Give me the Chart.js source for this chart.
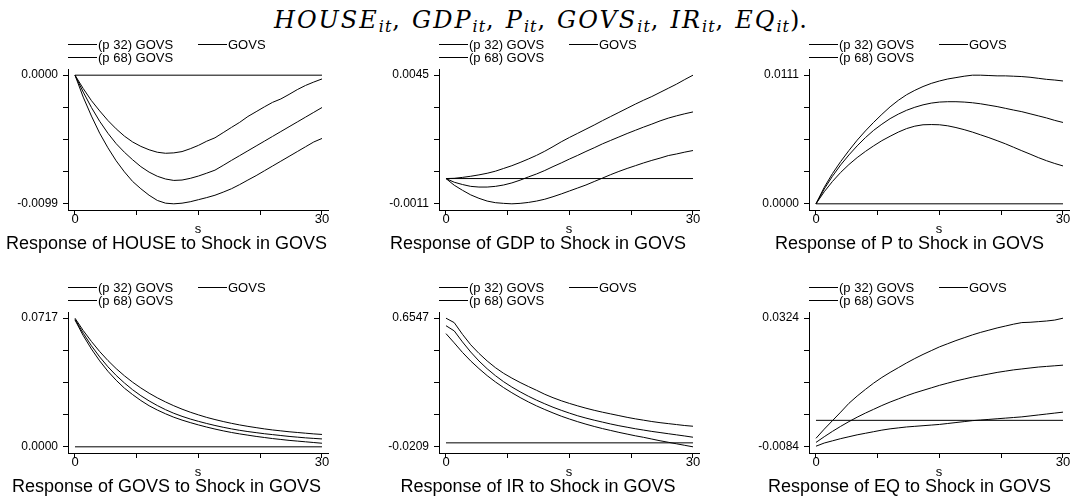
<!DOCTYPE html>
<html>
<head>
<meta charset="utf-8">
<script src="https://cdn.jsdelivr.net/npm/chart.js@4.4.1/dist/chart.umd.min.js"></script>
<style>
  html, body { margin: 0; padding: 0; background: #fff; }
  body { width: 1071px; height: 499px; position: relative; overflow: hidden; }
  canvas { position: absolute; }
  #head { position: absolute; left: 274px; top: 7px; font-family: 'DejaVu Serif', 'Liberation Serif', serif; font-size: 24px; line-height: 26px; white-space: nowrap; color: #000; }
  #head i { font-style: italic; letter-spacing: 2px; }
  #head sub { font-size: 16px; font-style: italic; letter-spacing: 1px; vertical-align: -4px; line-height: 0; }
  #head .c { margin-right: 12px; }
</style>
</head>
<body>
<div id="head"><i>HOUSE</i><sub>it</sub><span class="c">,</span><i>GDP</i><sub>it</sub><span class="c">,</span><i>P</i><sub>it</sub><span class="c">,</span><i>GOVS</i><sub>it</sub><span class="c">,</span><i>IR</i><sub>it</sub><span class="c">,</span><i>EQ</i><sub>it</sub>).</div>
<script>
Chart.defaults.font.family = "'Liberation Sans', Arial, Helvetica, sans-serif";
Chart.defaults.color = '#000';

// horizon steps and labels
const steps = [0,1,2,3,4,5,6,7,8,9,10,11,12,13,14,15,16,17,18,19,20,21,22,23,24,25,26,27,28,29,30];
const xTicks = [0, 7.5, 15, 22.5, 30];
const xLabels = [0, 30];
const shockName = 'GOVS';
const legendLabels = ['(p 32) GOVS', 'GOVS', '(p 68) GOVS'];
const zeroSteps = [0, 30];
const zeroLine = [0, 0];

// HOUSE
const houseP32 = [0, -0.00169, -0.00315, -0.00447, -0.00559, -0.00659, -0.00744, -0.00818, -0.00874, -0.00924, -0.00964, -0.00985, -0.00990, -0.00985, -0.00974, -0.00958, -0.00942, -0.00924, -0.00900, -0.00874, -0.00842, -0.00807, -0.00773, -0.00736, -0.00699, -0.00662, -0.00625, -0.00588, -0.00551, -0.00514, -0.00487];
const houseIrf = [0, -0.00130, -0.00249, -0.00355, -0.00447, -0.00527, -0.00593, -0.00651, -0.00704, -0.00746, -0.00778, -0.00799, -0.00810, -0.00807, -0.00794, -0.00776, -0.00754, -0.00731, -0.00694, -0.00656, -0.00619, -0.00582, -0.00545, -0.00508, -0.00471, -0.00434, -0.00397, -0.00360, -0.00323, -0.00286, -0.00249];
const houseP68 = [0, -0.00103, -0.00196, -0.00275, -0.00349, -0.00413, -0.00469, -0.00514, -0.00548, -0.00574, -0.00593, -0.00601, -0.00598, -0.00588, -0.00566, -0.00540, -0.00508, -0.00482, -0.00442, -0.00402, -0.00363, -0.00318, -0.00281, -0.00244, -0.00209, -0.00183, -0.00148, -0.00111, -0.00079, -0.00053, -0.00029];
const houseTicks = [-0.0099, 0.0000];

// GDP
const gdpP32 = [0, -0.00029, -0.00051, -0.00071, -0.00086, -0.00098, -0.00105, -0.00108, -0.00110, -0.00108, -0.00104, -0.00098, -0.00090, -0.00079, -0.00067, -0.00054, -0.00041, -0.00028, -0.00013, 0.00002, 0.00017, 0.00031, 0.00044, 0.00056, 0.00068, 0.00079, 0.00089, 0.00100, 0.00107, 0.00115, 0.00122];
const gdpIrf = [0, -0.00016, -0.00026, -0.00034, -0.00037, -0.00037, -0.00034, -0.00028, -0.00019, -0.00007, 0.00007, 0.00020, 0.00035, 0.00052, 0.00068, 0.00085, 0.00101, 0.00118, 0.00134, 0.00151, 0.00166, 0.00181, 0.00196, 0.00210, 0.00224, 0.00237, 0.00251, 0.00263, 0.00273, 0.00282, 0.00290];
const gdpP68 = [0, 0.00001, 0.00005, 0.00010, 0.00016, 0.00023, 0.00032, 0.00044, 0.00056, 0.00070, 0.00085, 0.00101, 0.00119, 0.00139, 0.00160, 0.00179, 0.00197, 0.00215, 0.00233, 0.00252, 0.00270, 0.00288, 0.00306, 0.00324, 0.00341, 0.00357, 0.00375, 0.00393, 0.00411, 0.00431, 0.00450];
const gdpTicks = [-0.0011, 0.0045];

// P
const pP32 = [0, 0.00104, 0.00193, 0.00271, 0.00339, 0.00399, 0.00452, 0.00500, 0.00545, 0.00583, 0.00619, 0.00649, 0.00670, 0.00682, 0.00684, 0.00682, 0.00673, 0.00658, 0.00640, 0.00619, 0.00595, 0.00571, 0.00545, 0.00518, 0.00488, 0.00458, 0.00429, 0.00399, 0.00372, 0.00348, 0.00327];
const pIrf = [0, 0.00128, 0.00238, 0.00336, 0.00422, 0.00500, 0.00571, 0.00634, 0.00687, 0.00735, 0.00774, 0.00807, 0.00833, 0.00854, 0.00869, 0.00878, 0.00881, 0.00881, 0.00878, 0.00872, 0.00863, 0.00851, 0.00839, 0.00824, 0.00809, 0.00795, 0.00777, 0.00759, 0.00741, 0.00720, 0.00702];
const pP68 = [0, 0.00142, 0.00261, 0.00365, 0.00460, 0.00549, 0.00629, 0.00703, 0.00772, 0.00837, 0.00893, 0.00941, 0.00979, 0.01012, 0.01039, 0.01060, 0.01077, 0.01089, 0.01101, 0.01110, 0.01110, 0.01107, 0.01104, 0.01104, 0.01101, 0.01098, 0.01092, 0.01083, 0.01074, 0.01068, 0.01060];
const pTicks = [0.0000, 0.0111];

// GOVS
const govsP32 = [0.0707, 0.0620, 0.0545, 0.0479, 0.0421, 0.0371, 0.0327, 0.0291, 0.0258, 0.0229, 0.0205, 0.0184, 0.0165, 0.0149, 0.0135, 0.0122, 0.0110, 0.0099, 0.0089, 0.0080, 0.0072, 0.0065, 0.0058, 0.0052, 0.0046, 0.0041, 0.0036, 0.0032, 0.0028, 0.0024, 0.0020];
const govsIrf = [0.0711, 0.0633, 0.0563, 0.0501, 0.0446, 0.0398, 0.0356, 0.0318, 0.0285, 0.0256, 0.0230, 0.0207, 0.0187, 0.0170, 0.0155, 0.0142, 0.0130, 0.0119, 0.0109, 0.0100, 0.0092, 0.0085, 0.0079, 0.0073, 0.0068, 0.0063, 0.0058, 0.0054, 0.0050, 0.0047, 0.0044];
const govsP68 = [0.0717, 0.0648, 0.0587, 0.0531, 0.0481, 0.0436, 0.0396, 0.0360, 0.0328, 0.0299, 0.0273, 0.0250, 0.0229, 0.0210, 0.0193, 0.0178, 0.0164, 0.0152, 0.0141, 0.0131, 0.0122, 0.0114, 0.0107, 0.0100, 0.0094, 0.0089, 0.0084, 0.0080, 0.0076, 0.0072, 0.0069];
const govsTicks = [0.0000, 0.0717];

// IR
const irP32 = [0.5736, 0.5250, 0.4750, 0.4300, 0.3900, 0.3530, 0.3200, 0.2900, 0.2630, 0.2380, 0.2150, 0.1940, 0.1750, 0.1570, 0.1400, 0.1250, 0.1110, 0.0980, 0.0860, 0.0750, 0.0650, 0.0550, 0.0460, 0.0370, 0.0290, 0.0200, 0.0110, 0.0030, -0.0050, -0.0130, -0.0209];
const irIrf = [0.6151, 0.5880, 0.5300, 0.4770, 0.4300, 0.3890, 0.3530, 0.3210, 0.2930, 0.2680, 0.2450, 0.2240, 0.2050, 0.1870, 0.1710, 0.1560, 0.1420, 0.1300, 0.1190, 0.1090, 0.0990, 0.0900, 0.0820, 0.0740, 0.0670, 0.0600, 0.0540, 0.0480, 0.0420, 0.0360, 0.0295];
const irP68 = [0.6547, 0.6313, 0.5700, 0.5150, 0.4700, 0.4300, 0.3950, 0.3650, 0.3400, 0.3170, 0.2960, 0.2760, 0.2550, 0.2370, 0.2210, 0.2070, 0.1940, 0.1820, 0.1710, 0.1610, 0.1520, 0.1430, 0.1340, 0.1260, 0.1190, 0.1120, 0.1060, 0.1010, 0.0960, 0.0910, 0.0872];
const irTicks = [-0.0209, 0.6547];

// EQ
const eqP32 = [-0.0082, -0.0072, -0.0065, -0.0058, -0.0052, -0.0046, -0.0041, -0.0036, -0.0031, -0.0027, -0.0024, -0.0021, -0.0019, -0.0017, -0.0015, -0.0013, -0.0010, -0.0007, -0.0004, -0.0001, 0.0001, 0.0003, 0.0005, 0.0007, 0.0009, 0.0011, 0.0014, 0.0017, 0.0020, 0.0023, 0.0026];
const eqIrf = [-0.0070, -0.0052, -0.0035, -0.0019, -0.0004, 0.0010, 0.0023, 0.0035, 0.0047, 0.0058, 0.0068, 0.0078, 0.0087, 0.0095, 0.0103, 0.0111, 0.0118, 0.0125, 0.0131, 0.0137, 0.0142, 0.0147, 0.0152, 0.0156, 0.0160, 0.0163, 0.0166, 0.0169, 0.0171, 0.0173, 0.0175];
const eqP68 = [-0.0057, -0.0028, -0.0001, 0.0026, 0.0054, 0.0077, 0.0098, 0.0118, 0.0136, 0.0152, 0.0167, 0.0182, 0.0196, 0.0209, 0.0221, 0.0233, 0.0243, 0.0253, 0.0262, 0.0271, 0.0279, 0.0286, 0.0293, 0.0299, 0.0305, 0.0310, 0.0311, 0.0313, 0.0315, 0.0318, 0.0324];
const eqTicks = [-0.0084, 0.0324];

const panels = [
  { name: 'HOUSE', lo: houseP32, mid: houseIrf, hi: houseP68, ticks: houseTicks },
  { name: 'GDP', lo: gdpP32, mid: gdpIrf, hi: gdpP68, ticks: gdpTicks },
  { name: 'P', lo: pP32, mid: pIrf, hi: pP68, ticks: pTicks },
  { name: 'GOVS', lo: govsP32, mid: govsIrf, hi: govsP68, ticks: govsTicks },
  { name: 'IR', lo: irP32, mid: irIrf, hi: irP68, ticks: irTicks },
  { name: 'EQ', lo: eqP32, mid: eqIrf, hi: eqP68, ticks: eqTicks }
];

// layout of the 3x2 grid
const colLeft = [5, 377, 750];
const colRight = [328, 699, 1069];
const yAxisWidth = [63, 62, 59];
const rowTop = [34, 277];
const canvasHeight = 221;
const padRight = 4;

// two-column legend like stata's
const bandLegend = {
  id: 'bandLegend',
  afterDraw(chart) {
    const { ctx, chartArea } = chart;
    const items = chart.data.datasets.filter(d => d.label);
    const slots = [[0, 0], [130, 0], [0, 13]];
    ctx.save();
    ctx.font = "13px 'Liberation Sans', Arial, sans-serif";
    ctx.textBaseline = 'middle';
    ctx.fillStyle = '#000';
    ctx.strokeStyle = '#000';
    ctx.lineWidth = 1;
    items.forEach((d, i) => {
      const x = chartArea.left + slots[i][0];
      const y = Math.round(chartArea.top) - 25 + slots[i][1];
      ctx.beginPath();
      ctx.moveTo(x, y + 0.5);
      ctx.lineTo(x + 29, y + 0.5);
      ctx.stroke();
      ctx.fillText(d.label, x + 30, y + 1);
    });
    ctx.restore();
  }
};

function series(xs, ys, label) {
  return {
    label: label,
    data: ys.map((v, i) => ({ x: xs[i], y: v })),
    borderColor: '#000', borderWidth: 1, pointRadius: 0, tension: 0, fill: false
  };
}

function makePanel(p, idx) {
  const col = idx % 3, row = Math.floor(idx / 3);
  const cl = colLeft[col];
  const cv = document.createElement('canvas');
  cv.width = colRight[col] - cl + padRight;
  cv.height = canvasHeight;
  cv.style.left = cl + 'px';
  cv.style.top = rowTop[row] + 'px';
  document.body.appendChild(cv);

  const yLo = p.ticks[0], yHi = p.ticks[1];
  const yPad = (yHi - yLo) * 0.048;

  new Chart(cv, {
    type: 'line',
    data: {
      datasets: [
        series(steps, p.lo, legendLabels[0]),
        series(steps, p.mid, legendLabels[1]),
        series(steps, p.hi, legendLabels[2]),
        series(zeroSteps, zeroLine, undefined)
      ]
    },
    options: {
      responsive: false, animation: false, events: [],
      layout: { padding: { top: 35, right: padRight, left: 0, bottom: 0 } },
      plugins: {
        legend: { display: false },
        tooltip: { enabled: false },
        title: {
          display: true, position: 'bottom', color: '#000',
          text: 'Response of ' + p.name + ' to Shock in ' + shockName,
          font: { size: 18, weight: 'normal' },
          padding: { top: -3, bottom: 0 }
        }
      },
      scales: {
        x: {
          type: 'linear', min: -0.85, max: 30.73,
          afterBuildTicks: s => { s.ticks = xTicks.map(v => ({ value: v })); },
          ticks: {
            font: { size: 13 }, padding: -3.6, maxRotation: 0, autoSkip: false,
            callback: v => xLabels.includes(v) ? String(v) : ''
          },
          grid: { drawOnChartArea: false, tickLength: 5, color: '#000' },
          border: { color: '#000', width: 1 },
          title: { display: true, text: 's', font: { size: 13, lineHeight: 1 }, padding: 0 }
        },
        y: {
          min: yLo - yPad, max: yHi + yPad,
          afterBuildTicks: s => { s.ticks = [0, 1, 2, 3, 4].map(k => ({ value: yLo + (yHi - yLo) * k / 4 })); },
          afterFit: s => { s.width = yAxisWidth[col]; },
          ticks: {
            font: { size: 12 }, padding: 5,
            callback: (v, i) => i === 0 ? yLo.toFixed(4) : (i === 4 ? yHi.toFixed(4) : '')
          },
          grid: { drawOnChartArea: false, tickLength: 5, color: '#000' },
          border: { color: '#000', width: 1 }
        }
      }
    },
    plugins: [bandLegend]
  });
}

panels.forEach(makePanel);
</script>
</body>
</html>
